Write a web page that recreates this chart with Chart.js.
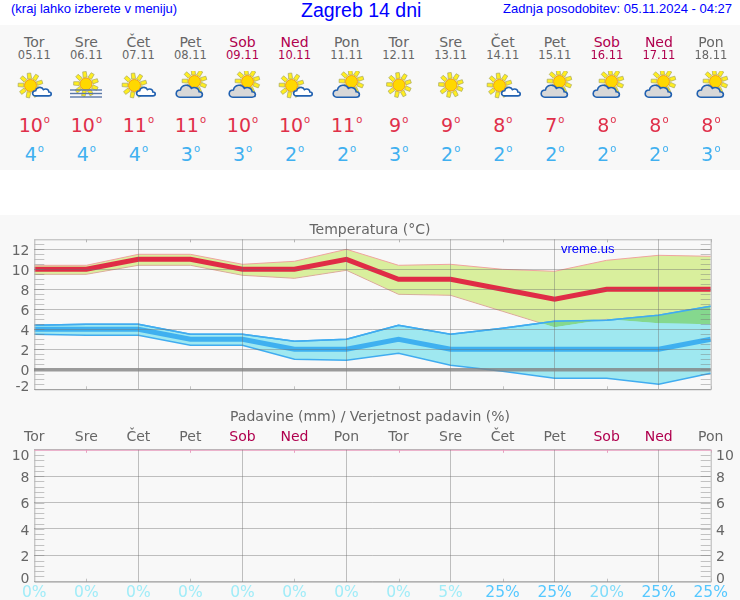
<!DOCTYPE html>
<html>
<head>
<meta charset="utf-8">
<script src="https://cdn.jsdelivr.net/npm/chart.js@4"></script>
<style>
  html, body { margin: 0; padding: 0; background: #fff; }
  #page { position: relative; width: 740px; height: 600px; overflow: hidden; font-family: "DejaVu Sans", sans-serif; }
  .blue { position: absolute; color: #0000ff; font-family: "Liberation Sans", sans-serif; white-space: nowrap; }
  #strip { position: absolute; left: 0; top: 25px; width: 740px; height: 145px; background: #f8f8f8; }
  .cell { position: absolute; width: 60px; text-align: center; white-space: nowrap; }
  .cell sup { font-size: 10px; line-height: 0; vertical-align: 9px; margin-left: 1px; }
  svg.icon { position: absolute; width: 44px; height: 34px; }
  canvas { position: absolute; left: 0; }
</style>
</head>
<body>
<div id="page">
  <div class="blue" style="left:11px;top:1px;font-size:13px;line-height:16px">(kraj lahko izberete v meniju)</div>
  <div class="blue" style="left:301px;top:-1px;font-size:19.5px;line-height:22px">Zagreb 14 dni</div>
  <div class="blue" style="right:8px;top:1px;font-size:13px;line-height:16px">Zadnja posodobitev: 05.11.2024 - 04:27</div>
  <div id="strip"></div>
  <div style="position:absolute;left:0;top:215px;width:740px;height:385px;background:#f8f8f8"></div>
  <canvas id="tempChart" width="740" height="185" style="top:215px;width:740px;height:185px"></canvas>
  <canvas id="rainChart" width="740" height="200" style="top:400px;width:740px;height:200px"></canvas>
  <div class="blue" style="left:561px;top:241px;font-size:13px;line-height:16px">vreme.us</div>
</div>

<script>
const days = ['Tor', 'Sre', 'Čet', 'Pet', 'Sob', 'Ned', 'Pon', 'Tor', 'Sre', 'Čet', 'Pet', 'Sob', 'Ned', 'Pon'];
const dates = ['05.11', '06.11', '07.11', '08.11', '09.11', '10.11', '11.11', '12.11', '13.11', '14.11', '15.11', '16.11', '17.11', '18.11'];
const icons = ['a', 'b', 'a', 'c', 'c', 'a', 'c', 'd', 'd', 'a', 'c', 'c', 'c', 'c'];

const tempMax = [10, 10, 11, 11, 10, 10, 11, 9, 9, 8, 7, 8, 8, 8];
const tempMaxUpper = [10.4, 10.4, 11.5, 11.5, 10.5, 10.8, 12.0, 10.4, 10.5, 10.0, 9.8, 10.9, 11.4, 11.3];
const tempMaxLower = [9.5, 9.5, 10.4, 10.4, 9.4, 9.1, 9.9, 7.5, 7.4, 5.8, 4.2, 5.0, 4.6, 4.5];

const tempMin = [4, 4, 4, 3, 3, 2, 2, 3, 2, 2, 2, 2, 2, 3];
const tempMinUpper = [4.4, 4.5, 4.5, 3.5, 3.5, 2.8, 3.0, 4.4, 3.5, 4.1, 4.8, 4.9, 5.4, 6.3];
const tempMinLower = [3.5, 3.4, 3.4, 2.4, 2.4, 1.0, 0.9, 1.6, 0.4, -0.2, -0.9, -0.9, -1.5, -0.4];

const rain = [0, 0, 0, 0, 0, 0, 0, 0, 0, 0, 0, 0, 0, 0];
const rainChance = [0, 0, 0, 0, 0, 0, 0, 0, 5, 25, 25, 20, 25, 25];

const dayColor = i => (days[i] === 'Sob' || days[i] === 'Ned') ? '#b0004e' : '#666666';
const chanceColor = i => rainChance[i] >= 25 ? '#55c8ff' : rainChance[i] >= 20 ? '#80dcfa' : '#a0ecf8';
const columnX = i => 34.3 + i * 52.05;

// ikone vremena
function sun(cx, cy, r) {
  let s = '';
  for (let k = 0; k < 9; k++) {
    const a = k * Math.PI * 2 / 9 - 0.3, b = 0.28;
    const p = (ang, rad) => (cx + Math.cos(ang) * rad).toFixed(1) + ',' + (cy + Math.sin(ang) * rad).toFixed(1);
    s += `<polygon points="${p(a - b, r + 1)} ${p(a - b / 2, r + 6.5)} ${p(a + b / 2, r + 6.5)} ${p(a + b, r + 1)}" fill="#ffee20" stroke="#a8a860" stroke-width="0.7"/>`;
  }
  return s + `<circle cx="${cx}" cy="${cy}" r="${r}" fill="#ffd800" stroke="#f2a010" stroke-width="1"/>`;
}
function cloud(x, y, k, fill) {
  return `<path transform="translate(${x} ${y}) scale(${k})" d="M3.5 12 C-1 12 -1 5.5 4 5.5 C5 0.5 12 -0.5 14 4 C17 2 21 4 21 7 C25 7 25 12 21 12 Z" fill="${fill}" stroke="#2060b0" stroke-width="${1.6 / k}"/>`;
}
const iconParts = {
  a: () => sun(18.5, 14.5, 6) + cloud(20.5, 15.5, 0.78, '#ffffff'),
  b: () => sun(22, 13, 6) + '<g stroke="#5a78a8" stroke-width="1.4"><line x1="6" x2="38" y1="19" y2="19"/><line x1="6" x2="38" y1="22.5" y2="22.5"/><line x1="6" x2="38" y1="26" y2="26"/></g>',
  c: () => sun(26.5, 10.5, 6) + cloud(8, 13, 1.1, '#d8d8d8'),
  d: () => sun(22, 14, 6)
};

const page = document.getElementById('page');
days.forEach((d, i) => {
  const x = columnX(i);
  const cell = (top, size, lh, color, html) => {
    const el = document.createElement('div');
    el.className = 'cell';
    el.style.cssText = `left:${x - 30}px;top:${top}px;font-size:${size}px;line-height:${lh}px;color:${color}`;
    el.innerHTML = html;
    page.appendChild(el);
  };
  cell(33, 14, 18, dayColor(i), d);
  cell(48, 11.5, 14, dayColor(i), dates[i]);
  cell(113, 19, 24, '#e0304a', tempMax[i] + '<sup>o</sup>');
  cell(142, 19, 24, '#40b0f0', tempMin[i] + '<sup>o</sup>');
  const box = document.createElementNS('http://www.w3.org/2000/svg', 'svg');
  box.setAttribute('class', 'icon');
  box.setAttribute('viewBox', '0 0 44 34');
  box.style.left = (x - 22) + 'px';
  box.style.top = '71px';
  box.innerHTML = iconParts[icons[i]]();
  page.appendChild(box);
});

// sitne crte osi i oznake
const axisDecor = {
  id: 'axisDecor',
  afterDatasetsDraw(chart, args, opts) {
    const ctx = chart.ctx, area = chart.chartArea, y = chart.scales.y, x = chart.scales.x;
    ctx.save();
    ctx.lineWidth = 1;
    ctx.strokeStyle = 'rgba(120,120,120,0.42)';
    for (let v = y.min + opts.minor; v < y.max; v += opts.minor) {
      const py = Math.round(y.getPixelForValue(v)) + 0.5;
      ctx.beginPath();
      ctx.moveTo(area.left, py); ctx.lineTo(area.left + 10, py);
      ctx.moveTo(area.right - 10, py); ctx.lineTo(area.right, py);
      ctx.stroke();
    }
    for (let i = 1; i < days.length; i += 2) {
      const px = Math.round(x.getPixelForValue(i)) + 0.5;
      ctx.beginPath();
      ctx.strokeStyle = opts.topColor;
      ctx.moveTo(px, area.top); ctx.lineTo(px, area.top + 3);
      ctx.stroke();
      ctx.beginPath();
      ctx.strokeStyle = 'rgba(120,120,120,0.42)';
      ctx.moveTo(px, area.bottom - 3); ctx.lineTo(px, area.bottom);
      ctx.stroke();
    }
    ctx.strokeStyle = '#b4b4b4';
    ctx.beginPath();
    ctx.moveTo(area.left + 0.5, area.top); ctx.lineTo(area.left + 0.5, area.bottom + 0.5);
    ctx.lineTo(area.right + 0.5, area.bottom + 0.5); ctx.lineTo(area.right + 0.5, area.top);
    ctx.stroke();
    ctx.strokeStyle = opts.topColor;
    ctx.beginPath();
    ctx.moveTo(area.left, area.top + 0.5); ctx.lineTo(area.right + 1, area.top + 0.5);
    ctx.stroke();

    // oznake y osi, krajnje su pomaknute unutra
    ctx.font = '14px "DejaVu Sans"';
    ctx.fillStyle = '#666666';
    ctx.textBaseline = 'middle';
    y.ticks.forEach(t => {
      let py = y.getPixelForValue(t.value) + 2;
      if (t.value === y.min) py -= opts.endShift;
      if (t.value === y.max) py += opts.endShift;
      ctx.textAlign = 'right';
      ctx.fillText(t.value, 29.5, py);
      if (opts.rightLabels) {
        ctx.textAlign = 'left';
        ctx.fillText(t.value, 716, py);
      }
    });
    ctx.restore();
  }
};

const gridColor = 'rgba(110,110,110,0.42)';
function sharedScales(yMin, yMax, zeroThick) {
  return {
    x: {
      type: 'category',
      offset: false,
      position: 'bottom',
      grid: {
        z: 1,
        offset: false,
        drawTicks: false,
        color: c => (c.index % 2 === 0 && c.index > 0 && c.index < days.length - 1) ? gridColor : 'transparent'
      },
      border: { display: false },
      ticks: { display: false },
      afterFit: s => { s.height = 0; }
    },
    y: {
      min: yMin,
      max: yMax,
      position: 'left',
      grid: {
        z: 1,
        drawTicks: false,
        color: c => (zeroThick && c.tick.value === 0) ? 'rgba(130,130,130,0.8)' : gridColor,
        lineWidth: c => (zeroThick && c.tick.value === 0) ? 3.4 : 1
      },
      border: { display: false },
      ticks: { display: false, stepSize: 2, includeBounds: false },
      afterFit: s => { s.width = 34.3; }
    },
    // prazan prostor desno, da naslov ostane na sredini platna
    yRight: {
      type: 'linear',
      position: 'right',
      min: yMin,
      max: yMax,
      grid: { display: false, drawTicks: false },
      border: { display: false },
      ticks: { display: false },
      afterFit: s => { s.width = 29.3; }
    }
  };
}

Chart.defaults.font.family = '"DejaVu Sans", sans-serif';
Chart.defaults.animation = false;

const edge = (data, color, extra) => Object.assign({
  data: data, borderColor: color, borderWidth: 1, pointRadius: 0, tension: 0, fill: false
}, extra);

// grafik temperature
new Chart(document.getElementById('tempChart'), {
  type: 'line',
  data: {
    labels: days,
    datasets: [
      edge(tempMaxLower, '#f0a4a0', { label: 'max spodaj', order: 6 }),
      edge(tempMaxUpper, '#f0a4a0', { label: 'max zgoraj', order: 7, fill: { target: 0, above: '#d9ef9d', below: '#d9ef9d' } }),
      edge(tempMinLower, '#40acf0', { label: 'min spodaj', order: 4, borderWidth: 1.5 }),
      edge(tempMinUpper, '#40acf0', { label: 'min zgoraj', order: 5, borderWidth: 1.5, fill: { target: 2, above: '#9fe8f0', below: '#9fe8f0' } }),
      edge(tempMinUpper, '#40acf0', { label: 'prekrivanje', order: 3, borderWidth: 1.5, fill: { target: 0, above: '#85d88e', below: 'transparent' } }),
      edge(tempMin, '#3fb0f0', { label: 'Min', order: 2, borderWidth: 5 }),
      edge(tempMax, '#e02c46', { label: 'Max', order: 1, borderWidth: 5 })
    ]
  },
  options: {
    responsive: false,
    layout: { padding: { left: 0, right: 0, top: 0, bottom: 10.7 } },
    scales: sharedScales(-2, 13, true),
    plugins: {
      legend: { display: false },
      tooltip: { enabled: false },
      title: { display: true, text: 'Temperatura (°C)', color: '#666666', font: { size: 14, weight: 'normal' }, padding: { top: 7, bottom: 0.5 } },
      axisDecor: { minor: 0.5, topColor: '#b4b4b4', endShift: 3.5, rightLabels: false }
    }
  },
  plugins: [axisDecor]
});

// grafik padavin
const rainScales = sharedScales(0, 10, false);
rainScales.xTop = {
  type: 'category',
  position: 'top',
  labels: days,
  offset: false,
  grid: { display: false, drawTicks: false },
  border: { display: false },
  ticks: { autoSkip: false, maxRotation: 0, padding: 4, font: { size: 14 }, color: c => dayColor(c.index) },
  afterFit: s => { s.height = 24; }
};
rainScales.xBottom = {
  type: 'category',
  position: 'bottom',
  labels: rainChance.map(p => p + '%'),
  offset: false,
  grid: { display: false, drawTicks: false },
  border: { display: false },
  ticks: { autoSkip: false, maxRotation: 0, padding: 2, font: { size: 15.5 }, color: c => chanceColor(c.index) },
  afterFit: s => { s.height = 18.3; }
};

new Chart(document.getElementById('rainChart'), {
  type: 'bar',
  data: {
    labels: days,
    datasets: [{ label: 'Padavine', data: rain, backgroundColor: '#40acf0', borderWidth: 0 }]
  },
  options: {
    responsive: false,
    layout: { padding: { left: 0, right: 0, top: 0, bottom: 0 } },
    scales: rainScales,
    plugins: {
      legend: { display: false },
      tooltip: { enabled: false },
      title: { display: true, text: 'Padavine (mm) / Verjetnost padavin (%)', color: '#666666', font: { size: 14, weight: 'normal' }, padding: { top: 9, bottom: 0 } },
      axisDecor: { minor: 0.4, topColor: '#e8a0c0', endShift: 4.5, rightLabels: true }
    }
  },
  plugins: [axisDecor]
});
</script>
</body>
</html>
